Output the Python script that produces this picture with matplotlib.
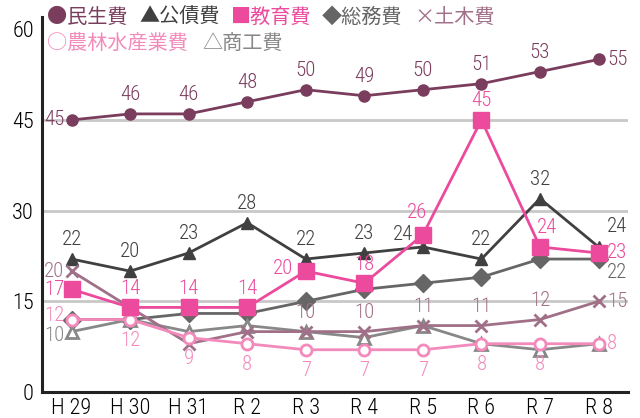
import matplotlib
matplotlib.use("Agg")
from matplotlib import pyplot as plt

plt.rcParams['font.family'] = ['Roboto Condensed', 'Noto Sans CJK JP', 'DejaVu Sans']
plt.rcParams['font.weight'] = 'light'

years = ['H 29', 'H 30', 'H 31', 'R 2', 'R 3', 'R 4', 'R 5', 'R 6', 'R 7', 'R 8']

minsei = [45, 46, 46, 48, 50, 49, 50, 51, 53, 55]
kousai = [22, 20, 23, 28, 22, 23, 24, 22, 32, 24]
kyouiku = [17, 14, 14, 14, 20, 18, 26, 45, 24, 23]
soumu = [12, 12, 13, 13, 15, 17, 18, 19, 22, 22]
doboku = [20, 14, 8, 10, 10, 10, 11, 11, 12, 15]
nourin = [12, 12, 9, 8, 7, 7, 7, 8, 8, 8]
shoukou = [10, 12, 10, 11, 10, 9, 11, 8, 7, 8]

# where each value label goes (None = no label)
pos_minsei = ['l', 'a', 'a', 'a', 'a', 'a', 'a', 'a', 'a', 'r']
pos_kousai = ['a', 'a', 'a', 'a', 'a', 'a', 'al2', 'a', 'a', 'ar']
pos_kyouiku = ['l', 'a', 'a', 'a', 'l2', 'a', 'al', 'a', 'ac', 'r']
pos_soumu = [None] * 9 + ['br']
pos_doboku = ['l', None, None, None, 'a', 'a', 'a', 'a', 'a', 'r']
pos_nourin = ['lu', 'b', 'b', 'b', 'b', 'b', 'b', 'b', 'b', 'r']
pos_shoukou = ['ld'] + [None] * 9

series = [
    (kousai, pos_kousai, '#404040', '^', 9, '#404040'),
    (soumu, pos_soumu, '#666666', 'D', 9, '#666666'),
    (shoukou, pos_shoukou, '#888888', '^', 8, 'white'),
    (doboku, pos_doboku, '#A07088', 'x', 9, '#A07088'),
    (nourin, pos_nourin, '#F38ABB', 'o', 8, 'white'),
    (kyouiku, pos_kyouiku, '#EC4A9C', 's', 11, '#EC4A9C'),
    (minsei, pos_minsei, '#7B3D5E', 'o', 8, '#7B3D5E'),
]

offsets = {
    'a': (0, 7, 'center', 'bottom'),
    'b': (0, -8, 'center', 'top'),
    'l': (-5, 0, 'right', 'center'),
    'lu': (-5, 3, 'right', 'center'),
    'ld': (-5, -3, 'right', 'center'),
    'l2': (-9, 2, 'right', 'center'),
    'r': (6, 0, 'left', 'center'),
    'al': (-4, 9, 'center', 'bottom'),
    'al2': (-7, 2, 'right', 'bottom'),
    'ac': (5, 7, 'center', 'bottom'),
    'ar': (6, 8, 'left', 'bottom'),
    'br': (6, -3, 'left', 'top'),
}

fig = plt.figure(figsize=(6.4, 4.18), dpi=100)
ax = fig.add_axes([0.066, 0.062, 0.915, 0.897])

x = list(range(len(years)))
for vals, poss, col, mk, ms, fc in series:
    ax.plot(x, vals, color=col, lw=2, marker=mk, ms=ms, mfc=fc, mec=col,
            mew=2 if fc == 'white' or mk == 'x' else 1, zorder=3)
    for xi, v, p in zip(x, vals, poss):
        if p is None:
            continue
        dx, dy, ha, va = offsets[p]
        ax.annotate(str(v), (xi, v), xytext=(dx, dy), textcoords='offset points',
                    ha=ha, va=va, color=col, fontsize=15, zorder=4)

ax.set_xlim(-0.5, 9.5)
ax.set_ylim(0, 62)
ax.set_yticks([0, 15, 30, 45, 60])
ax.set_xticks(x)
ax.set_xticklabels(years)
ax.tick_params(length=0, labelsize=16, pad=4)
ax.tick_params(axis='y', pad=6)
for yv in [15, 30, 45]:
    ax.axhline(yv, color='#c8c8c8', lw=2, zorder=1)
for s in ['top', 'right']:
    ax.spines[s].set_visible(False)
for s in ['left', 'bottom']:
    ax.spines[s].set_linewidth(2.2)
    ax.spines[s].set_color('#222222')

# legend as coloured text
leg = [
    ('●民生費', '#7B3D5E', 47, 17), ('▲公債費', '#404040', 139, 17),
    ('■教育費', '#EC4A9C', 231, 17), ('◆総務費', '#666666', 322, 17),
    ('×土木費', '#A07088', 414, 17),
    ('○農林水産業費', '#F38ABB', 47, 43), ('△商工費', '#888888', 202, 43),
]
for txt, col, px, py in leg:
    fig.text(px / 640, 1 - py / 418, txt, color=col, fontsize=14.5, fontweight='normal',
             family=['Noto Sans CJK JP', 'DejaVu Sans'], ha='left', va='center')

fig.savefig('out.png', dpi=100)
